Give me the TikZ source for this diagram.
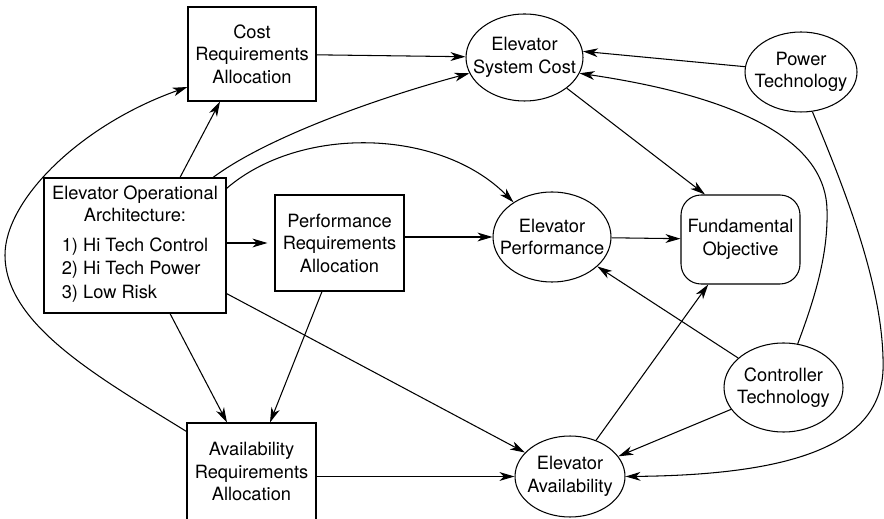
\documentclass[tikz,border=0pt]{standalone}
\usepackage{fontspec}
\setmainfont{TeX Gyre Heros}
\usetikzlibrary{shapes.geometric, arrows.meta, positioning}
\tikzstyle{recNode} = [rectangle, draw=black, line width=0.6pt, inner sep=0pt, align=center, font={\fontsize{10.4}{12.8}\selectfont}]
\tikzstyle{objNode} = [recNode, rounded corners=0.4cm]
\tikzstyle{ellNode} = [ellipse, draw=black, line width=0.6pt, inner sep=0pt]
\tikzstyle{ellText} = [align=center, inner sep=0pt, font={\fontsize{10.4}{12.8}\selectfont}]
\tikzstyle{arrow} = [line width=0.6pt, ->, >={Stealth[length=8.5pt,width=5pt,inset=2.5pt]}, draw=black]
\renewcommand{\arraystretch}{1.05}

\begin{document}
\begin{tikzpicture}[x=0.02cm, y=-0.02cm]
    \useasboundingbox (0,0) rectangle (884,519);

    % requirement boxes
    \node (costreq) [recNode, minimum width=2.56cm, minimum height=1.88cm] at (252,54) {Cost\\Requirements\\Allocation};
    \node (arch) [recNode, minimum width=3.64cm, minimum height=2.7cm] at (135,245.5) {Elevator Operational\\Architecture:\\[4pt]\begin{tabular}[t]{@{}l@{}}1) Hi Tech Control\\2) Hi Tech Power\\3) Low Risk\end{tabular}};
    \node (perfreq) [recNode, minimum width=2.58cm, minimum height=1.92cm] at (339.5,243) {Performance\\Requirements\\Allocation};
    \node (availreq) [recNode, minimum width=2.58cm, minimum height=1.94cm] at (251.5,471.5) {Availability\\Requirements\\Allocation};

    % outcome nodes
    \node (syscost) [ellNode, minimum width=2.34cm, minimum height=1.74cm, label={[ellText]center:Elevator\\System Cost}] at (524.5,57.5) {};
    \node (power) [ellNode, minimum width=2.24cm, minimum height=1.6cm, label={[ellText]center:Power\\Technology}] at (801,72) {};
    \node (perf) [ellNode, minimum width=2.36cm, minimum height=1.8cm, label={[ellText]center:Elevator\\Performance}] at (552,237) {};
    \node (fund) [objNode, minimum width=2.38cm, minimum height=1.78cm] at (740.5,239.5) {Fundamental\\Objective};
    \node (ctrl) [ellNode, minimum width=2.38cm, minimum height=1.78cm, label={[ellText]center:Controller\\Technology}] at (783.5,387.5) {};
    \node (avail) [ellNode, minimum width=2.2cm, minimum height=1.62cm, label={[ellText]center:Elevator\\Availability}] at (570,476.5) {};

    \draw [arrow] (costreq) -- (syscost);
    \draw [arrow] ([xshift=0.9cm]arch.north) -- ([xshift=-0.64cm]costreq.south);
    \draw [arrow] ([xshift=1.56cm]arch.north) .. controls (270,135) and (388,95) .. (syscost.196);
    \draw [arrow] ([yshift=-0.22cm]arch.north east) .. controls (300,125) and (440,128) .. (perf.138);
    \draw [arrow, shorten >=4pt] (arch.east |- perfreq) -- (perfreq.west);
    \draw [arrow] (perfreq.east |- perf) -- (perf);
    \draw [arrow] (perf) -- (fund);
    \draw [arrow] (syscost.-36) -- ([xshift=-0.71cm]fund.north);
    \draw [arrow] (power) -- (syscost.6);
    \draw [arrow] (ctrl.72) .. controls (818,290) and (828,250) .. (827,210) .. controls (826,150) and (760,100) .. (syscost.-16);
    \draw [arrow] (power.-74) .. controls (845,190) and (885,290) .. (883,370) .. controls (880,450) and (780,475) .. (avail.east);
    \draw [arrow] (ctrl) -- (perf);
    \draw [arrow] (ctrl) -- (avail);
    \draw [arrow] (avail) -- (fund);
    \draw [arrow] ([yshift=0.4cm]arch.south east) -- (avail.152);
    \draw [arrow] ([xshift=0.7cm]arch.south) -- ([xshift=-0.49cm]availreq.north);
    \draw [arrow] ([xshift=-0.35cm]perfreq.south) -- ([xshift=0.37cm]availreq.north);
    \draw [arrow] (availreq.east |- avail) -- (avail);
    % feedback loop on the left
    \draw [arrow] ([yshift=-0.18cm]availreq.north west) .. controls (100,378) and (5,325) .. (5,255) .. controls (5,200) and (80,125) .. ([yshift=-0.66cm]costreq.west);

\end{tikzpicture}
\end{document}
